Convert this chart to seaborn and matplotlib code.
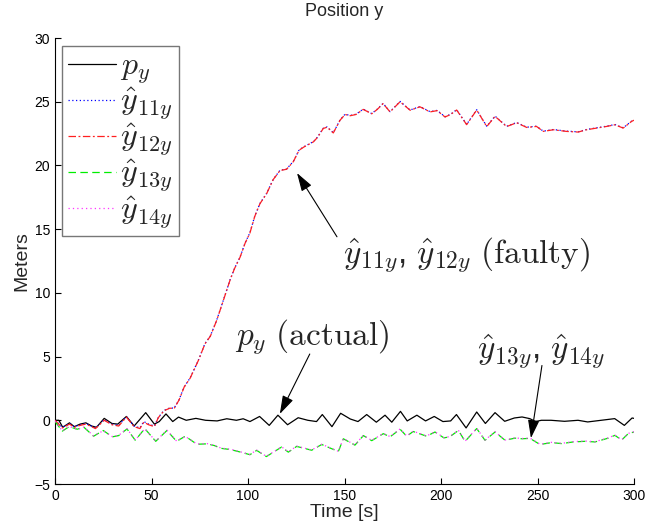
import matplotlib
matplotlib.use("Agg")
import matplotlib.pyplot as plt
import seaborn as sns
import pandas as pd

# ---- data -------------------------------------------------------------
# actual position p_y
t_p = [0, 2, 4, 7.5, 10, 13, 16, 19, 21.5, 25.5, 29.5, 32.5, 37, 41, 47, 51.5,
       54, 57.5, 61, 64, 68, 73, 78, 84, 89, 94, 97.5, 101, 106, 111, 115.5,
       120.5, 126, 131, 135.5, 138.5, 143.5, 148, 153, 157, 161.5, 166.5, 171,
       174.5, 179, 182.5, 187.5, 192, 196.5, 201, 205, 208, 213, 218.5, 223,
       228, 233, 238, 242, 246, 249, 252, 257, 264, 271, 276, 283, 290, 295,
       299, 300]
p_y = [0.0, 0.0, -0.55, -0.2, -0.5, -0.3, -0.2, -0.45, -0.55, 0.15, -0.25, -0.3,
       0.3, -0.45, 0.6, -0.3, -0.1, 0.5, -0.1, 0.25, 0.0, 0.15, 0.0, -0.05, 0.12,
       0.0, 0.12, -0.1, 0.3, -0.4, 0.4, -0.35, 0.2, 0.0, -0.1, 0.45, -0.5, 0.55,
       0.1, -0.1, 0.45, -0.15, 0.4, -0.15, 0.7, -0.05, 0.4, -0.05, 0.3, -0.1,
       -0.05, 0.45, -0.6, 0.65, -0.25, 0.6, -0.08, 0.18, 0.26, 0.13, -0.1, 0.0,
       0.0, -0.08, 0.0, -0.13, 0.0, 0.13, -0.4, 0.18, 0.15]

# faulty estimates y11 / y12
t_f = [0, 3.8, 7.5, 10, 13, 16, 21, 25.5, 29.5, 33, 37, 41, 44, 46, 48.5, 51.5,
       53.5, 56.5, 59.5, 61.7, 64.3, 66.9, 70, 74.3, 77.7, 80.5, 83.8, 87, 90.7,
       93, 95.9, 98.5, 101, 103.5, 106.2, 109.7, 113.1, 116.6, 120, 123.5, 126.5,
       129, 133.9, 136, 139, 141, 144.2, 147.7, 150.3, 153, 156, 159.7, 164.1,
       167, 170, 173.6, 178.8, 184, 189.1, 194.3, 198, 202.1, 205, 208.1, 213.3,
       218.5, 223.7, 228, 234, 239.2, 244.4, 249.5, 253, 258.2, 265, 271.1,
       275.4, 280.6, 285.8, 290.1, 294.4, 298.7, 300]
y11 = [0.0, -0.55, -0.25, -0.5, -0.35, -0.25, -0.6, 0.05, -0.3, -0.4, 0.28,
       -0.45, -0.6, -0.1, -0.3, -0.45, 0.22, 0.78, 0.97, 0.95, 1.62, 2.62, 3.32,
       4.72, 6.02, 6.62, 7.87, 9.32, 11.02, 11.92, 12.82, 13.92, 14.72, 16.02,
       17.02, 17.82, 18.92, 19.62, 19.72, 20.32, 21.22, 21.47, 21.87, 22.22,
       22.92, 23.02, 22.57, 23.57, 24.02, 23.92, 24.02, 24.42, 24.07, 24.42,
       24.87, 24.22, 25.02, 24.35, 24.62, 24.22, 24.32, 23.82, 24.02, 24.37,
       23.22, 24.37, 23.07, 23.87, 23.07, 23.37, 23.0, 23.08, 22.69, 22.82,
       22.69, 22.64, 22.82, 22.95, 23.08, 23.21, 22.95, 23.47, 23.57]
y12 = [0.0, -0.6, -0.3, -0.55, -0.4, -0.3, -0.65, 0.0, -0.35, -0.45, 0.25,
       -0.5, -0.65, -0.15, -0.35, -0.5, 0.2, 0.75, 0.95, 0.92, 1.6, 2.6, 3.3,
       4.7, 6.0, 6.6, 7.85, 9.3, 11.0, 11.9, 12.8, 13.9, 14.7, 16.0, 17.0, 17.8,
       18.9, 19.6, 19.7, 20.3, 21.2, 21.45, 21.85, 22.2, 22.9, 23.0, 22.55,
       23.55, 24.0, 23.9, 24.0, 24.4, 24.05, 24.4, 24.85, 24.2, 25.0, 24.33,
       24.6, 24.2, 24.3, 23.8, 24.0, 24.35, 23.2, 24.35, 23.05, 23.85, 23.05,
       23.35, 22.98, 23.06, 22.67, 22.8, 22.67, 22.62, 22.8, 22.93, 23.06,
       23.19, 22.93, 23.45, 23.55]

# healthy estimates y13 / y14
t_h = [0, 3.8, 7.3, 11.5, 15, 20, 25, 29.7, 33, 37.3, 41.6, 46.5, 52.2, 58, 63,
       67.5, 73.5, 78.8, 82.5, 86, 91, 96.2, 101, 104.5, 109.5, 117.4, 120.9,
       125.2, 133, 138.2, 146.8, 149.4, 155.4, 159.8, 164.1, 170.1, 173.6,
       178.8, 182.2, 185.6, 192.5, 196.9, 201.5, 204.5, 209, 212.5, 218.5,
       222.8, 228, 233.2, 238.3, 241.8, 246.1, 251.3, 257.3, 262.5, 268.5,
       274.6, 279.8, 286.7, 290.1, 293.6, 297, 300]
y13 = [-0.1, -0.85, -0.5, -0.7, -0.55, -1.25, -0.8, -1.3, -1.2, -0.68, -1.57,
       -0.65, -1.65, -0.8, -1.65, -1.25, -1.88, -1.85, -1.98, -2.2, -2.3, -2.5,
       -2.7, -2.36, -2.85, -2.1, -2.5, -2.05, -2.35, -1.9, -2.45, -1.45, -1.95,
       -1.2, -1.6, -1.05, -1.3, -0.7, -1.25, -0.88, -1.25, -0.92, -1.38, -1.3,
       -0.8, -1.65, -0.65, -1.57, -0.92, -1.57, -1.4, -1.45, -1.42, -1.9, -1.75,
       -1.83, -1.7, -1.65, -1.7, -1.4, -1.18, -1.55, -1.05, -0.92]
y14 = [-0.08, -0.83, -0.48, -0.72, -0.53, -1.23, -0.82, -1.28, -1.18, -0.66,
       -1.55, -0.67, -1.63, -0.78, -1.63, -1.27, -1.86, -1.83, -1.96, -2.18,
       -2.28, -2.48, -2.68, -2.34, -2.83, -2.08, -2.48, -2.03, -2.33, -1.88,
       -2.43, -1.43, -1.93, -1.18, -1.58, -1.03, -1.28, -0.68, -1.23, -0.86,
       -1.23, -0.9, -1.36, -1.28, -0.78, -1.63, -0.63, -1.55, -0.9, -1.55,
       -1.38, -1.43, -1.4, -1.88, -1.73, -1.81, -1.68, -1.63, -1.68, -1.38,
       -1.16, -1.53, -1.03, -0.9]

labels = [r"$p_y$", r"$\hat{y}_{11y}$", r"$\hat{y}_{12y}$",
          r"$\hat{y}_{13y}$", r"$\hat{y}_{14y}$"]
x_ticks = [0, 50, 100, 150, 200, 250, 300]
y_ticks = [-5, 0, 5, 10, 15, 20, 25, 30]

# ---- style ------------------------------------------------------------
sns.set_theme(style="ticks")
plt.rcParams["font.family"] = ["Liberation Sans", "DejaVu Sans"]
plt.rcParams["mathtext.fontset"] = "cm"
plt.rcParams["xtick.direction"] = "in"
plt.rcParams["ytick.direction"] = "in"

W, H = 645, 529
fig = plt.figure(figsize=(W / 100, H / 100), dpi=100)
ax = fig.add_axes([55 / W, 1 - 484 / H, (634 - 55) / W, (484 - 38) / H])

series = [
    (t_p, p_y, "black", "-", labels[0]),
    (t_f, y11, "#0000ff", (0, (1, 2)), labels[1]),
    (t_f, y12, "#ff2020", (0, (6, 2, 1.5, 2)), labels[2]),
    (t_h, y13, "#00ee00", (0, (6, 3.5)), labels[3]),
    (t_h, y14, "#ff33ff", (0, (1, 2.5)), labels[4]),
]
for i, (tt, vv, col, ls, lab) in enumerate(series):
    df = pd.DataFrame({"t": tt, "v": vv})
    sns.lineplot(data=df, x="t", y="v", ax=ax, color=col, linestyle=ls,
                 linewidth=0.9, label=lab, zorder=2 + i)

ax.set_xlim(0, 300)
ax.set_ylim(-5, 30)
ax.set_xticks(x_ticks)
ax.set_yticks(y_ticks)
ax.tick_params(labelsize=10, length=4, width=0.8, colors="black")
for s in ("top", "right"):
    ax.spines[s].set_visible(False)
for s in ("left", "bottom"):
    ax.spines[s].set_color("black")
    ax.spines[s].set_linewidth(0.8)

ax.set_title("Position y", fontsize=13, pad=16)
ax.set_xlabel("Time [s]", fontsize=14, labelpad=1)
ax.set_ylabel("Meters", fontsize=14, labelpad=3)

leg = ax.legend(loc="upper left", bbox_to_anchor=(62 / W, 1 - 46 / H),
                bbox_transform=fig.transFigure, fontsize=23, frameon=True,
                fancybox=False, edgecolor="#555555", handlelength=1.5,
                handletextpad=0.15, labelspacing=0.0, borderpad=0.18,
                borderaxespad=0)
leg.get_frame().set_linewidth(1.0)

# ---- annotations ------------------------------------------------------
arrow = dict(arrowstyle="-|>,head_length=0.7,head_width=0.22", color="black",
             lw=0.8, mutation_scale=16, shrinkA=0, shrinkB=0)
ax.text(149.2, 13.0, r"$\hat{y}_{11y}$, $\hat{y}_{12y}$ $\mathrm{(faulty)}$",
        fontsize=24, ha="left", va="center")
ax.annotate("", xy=(125.4, 19.4), xytext=(146.1, 14.4), arrowprops=arrow)

ax.text(93.5, 6.6, r"$p_y$ $\mathrm{(actual)}$", fontsize=24,
        ha="left", va="center")
ax.annotate("", xy=(116.5, 0.5), xytext=(132.0, 5.2), arrowprops=arrow)

ax.text(218.5, 5.4, r"$\hat{y}_{13y}$, $\hat{y}_{14y}$", fontsize=24,
        ha="left", va="center")
ax.annotate("", xy=(246.6, -1.4), xytext=(252.3, 4.3), arrowprops=arrow)

fig.savefig("out.png", dpi=100, facecolor="white")
